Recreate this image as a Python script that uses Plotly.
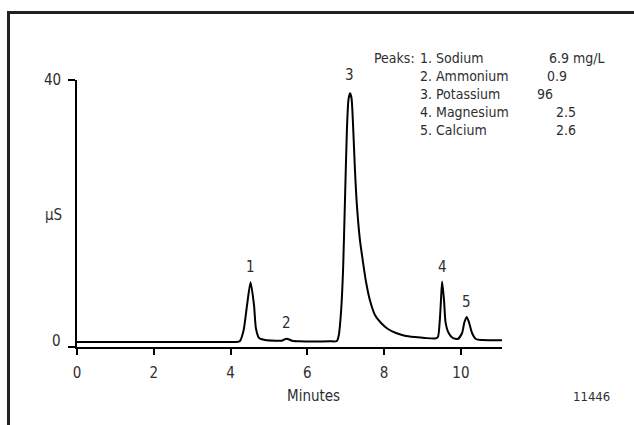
import plotly.graph_objects as go

# Chromatogram trace (minutes, µS)
time_min = [0.0, 4.0, 4.2, 4.24, 4.34, 4.43, 4.52, 4.61, 4.66, 4.74, 4.9, 5.16,
            5.34, 5.46, 5.6, 5.8, 6.59, 6.77,
            6.82, 6.88, 6.93, 6.98, 7.03, 7.07, 7.11, 7.15, 7.19, 7.24, 7.29, 7.37,
            7.45, 7.53, 7.63, 7.76, 7.92, 8.1, 8.31, 8.54, 8.8, 9.06, 9.32,
            9.4, 9.45, 9.48, 9.51, 9.56, 9.6, 9.68, 9.79, 9.92,
            10.03, 10.09, 10.15, 10.21, 10.29, 10.39, 10.55, 11.07]
signal_us = [0.75, 0.75, 0.8, 0.85, 2.5, 6.3, 9.7, 6.3, 2.8, 1.35, 1.05, 0.95,
             0.95, 1.25, 0.95, 0.85, 0.85, 0.9,
             1.8, 5.5, 11.5, 22.0, 32.5, 37.0, 38.0, 37.3, 33.3, 26.5, 21.3, 16.0,
             12.7, 9.7, 7.0, 4.8, 3.6, 2.7, 2.1, 1.7, 1.5, 1.35, 1.27,
             1.5, 4.0, 7.0, 9.8, 7.0, 3.7, 2.1, 1.35, 1.2,
             2.1, 3.7, 4.5, 3.7, 2.1, 1.2, 1.05, 1.0]

peak_numbers = ["1", "2", "3", "4", "5"]
peak_times = [4.52, 5.46, 7.11, 9.51, 10.15]
peak_label_y = [12.0, 3.6, 40.8, 12.0, 6.8]

peak_names = ["Sodium", "Ammonium", "Potassium", "Magnesium", "Calcium"]
peak_values = ["6.9 mg/L", "0.9", "96", "2.5", "2.6"]

x_ticks = [0, 2, 4, 6, 8, 10]
y_ticks = [0, 40]
y_tick_text = ["0", "40"]

FONT = "DejaVu Sans Condensed, Liberation Sans Narrow, Arial Narrow, sans-serif"
TXT = "#2e2e2e"

W, H = 634, 425
L, R, T, B = 77, 502, 80, 347
pw, ph = R - L, B - T
Y_MAX = 40.0

def px_x(p):
    return (p - L) / pw

def px_y(p):
    return (B - p) / ph

def txt(x, y, text, size=15, xanchor="center", **kw):
    return dict(x=x, y=y, xref="paper", yref="paper", text=text, showarrow=False,
                xanchor=xanchor, yanchor="middle",
                font=dict(family=FONT, size=size, color=TXT), **kw)

fig = go.Figure()
fig.add_trace(go.Scatter(x=time_min, y=signal_us, mode="lines",
                         line=dict(color="black", width=2, shape="spline", smoothing=0.6),
                         hoverinfo="skip", showlegend=False))

annotations = []
# peak numbers (x in data units, y converted to paper so labels above the range still draw)
for n, t, yv in zip(peak_numbers, peak_times, peak_label_y):
    annotations.append(dict(x=t, y=yv / Y_MAX, xref="x", yref="paper", text=n,
                            showarrow=False, xanchor="center", yanchor="middle",
                            font=dict(family=FONT, size=15, color=TXT)))

# y tick labels
for v, s in zip(y_ticks, y_tick_text):
    shift = 6 if v == 0 else 0
    annotations.append(txt(px_x(63), v / Y_MAX, s, xanchor="right", yshift=shift))

# Peak table
row_y = [58, 76, 94, 112, 130]
value_x = [547, 545, 535, 554, 554]
annotations.append(txt(px_x(372), px_y(row_y[0]), "Peaks:", size=14, xanchor="left"))
for i, (nm, val) in enumerate(zip(peak_names, peak_values)):
    annotations.append(txt(px_x(418), px_y(row_y[i]), f"{i+1}. {nm}", size=14, xanchor="left"))
    annotations.append(txt(px_x(value_x[i]), px_y(row_y[i]), val, size=14, xanchor="left"))

annotations += [
    txt(px_x(313), px_y(396), "Minutes"),
    txt(px_x(53), px_y(215), "µS"),
    txt(px_x(591), px_y(396), "11446", size=13),
]

shapes = [
    dict(type="line", xref="paper", yref="paper", x0=px_x(8.5), x1=px_x(8.5),
         y0=px_y(12.5), y1=px_y(430), line=dict(color="#222", width=3)),
    dict(type="line", xref="paper", yref="paper", x0=px_x(7), x1=px_x(640),
         y0=px_y(12.5), y1=px_y(12.5), line=dict(color="#222", width=3)),
]

fig.update_layout(
    width=W, height=H,
    margin=dict(l=L, r=W - R, t=T, b=H - B, pad=0),
    paper_bgcolor="white", plot_bgcolor="white",
    font=dict(family=FONT, size=15, color=TXT),
    xaxis=dict(range=[0, 11.07], tickvals=x_ticks, ticks="outside", ticklen=6,
               tickcolor="black", tickwidth=1.5, showline=True, linecolor="black",
               linewidth=1.5, showgrid=False, zeroline=False, ticklabelstandoff=5,
               tickfont=dict(family=FONT, size=15, color=TXT)),
    yaxis=dict(range=[0, Y_MAX], tickvals=y_ticks, ticks="outside", ticklen=7,
               tickcolor="black", tickwidth=1.5, showline=True, linecolor="black",
               linewidth=2, showgrid=False, zeroline=False, showticklabels=False),
    annotations=annotations, shapes=shapes, showlegend=False,
)

fig.write_html("out.html")
